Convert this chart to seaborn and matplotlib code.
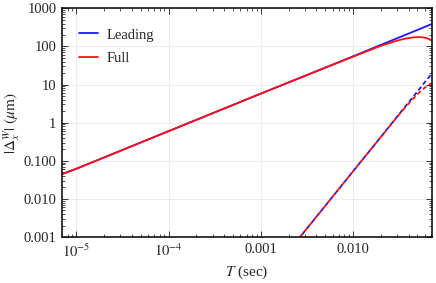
import numpy as np
import pandas as pd
import matplotlib
matplotlib.use("Agg")
import matplotlib.pyplot as plt
import seaborn as sns
from matplotlib.ticker import LogLocator, NullFormatter

# data (T in sec, displacement in um)
t_solid = [7e-6, 1e-5, 1e-4, 1e-3, 0.01, 0.02, 0.03, 0.035, 0.04, 0.045,
           0.05, 0.055, 0.06, 0.065, 0.071]
leading_solid = [0.045, 0.062, 0.6, 5.8, 55, 110, 164, 191, 218, 245,
                 272, 299, 326, 353, 385]
full_solid = [0.045, 0.062, 0.6, 5.8, 54, 104, 142, 156, 166, 173,
              176, 175, 170, 160, 145]

t_dash = [0.0025, 0.005, 0.01, 0.02, 0.03, 0.035, 0.04, 0.045, 0.05,
          0.055, 0.06, 0.065, 0.071]
leading_dash = [0.00083, 0.0066, 0.053, 0.42, 1.43, 2.27, 3.4, 4.8, 6.6,
                8.8, 11.5, 14.5, 19.0]
full_dash = [0.00083, 0.0066, 0.053, 0.42, 1.40, 2.2, 3.15, 4.3, 5.6,
             6.9, 8.3, 9.6, 10.8]

x_ticks = [1e-5, 1e-4, 1e-3, 1e-2]
x_labels = [r"$10^{-5}$", r"$10^{-4}$", "0.001", "0.010"]
y_ticks = [1e-3, 1e-2, 1e-1, 1, 10, 100, 1000]
y_labels = ["0.001", "0.010", "0.100", "1", "10", "100", "1000"]

blue = "#1a1aff"
red = "#ff1010"

sns.set_style("ticks")
plt.rcParams["font.family"] = ["Liberation Serif", "DejaVu Serif"]
plt.rcParams["mathtext.fontset"] = "stix"
plt.rcParams["font.size"] = 10.5

fig = plt.figure(figsize=(4.36, 2.83), dpi=100)
ax = fig.add_axes([0.142, 0.1625, 0.848, 0.808])

sns.lineplot(x=t_solid, y=leading_solid, ax=ax, color=blue, lw=1.3,
             label="Leading")
sns.lineplot(x=t_solid, y=full_solid, ax=ax, color=red, lw=1.3,
             label="Full")
sns.lineplot(x=t_dash, y=leading_dash, ax=ax, color=blue, lw=1.3,
             linestyle=(0, (2.5, 1.6)), legend=False)
sns.lineplot(x=t_dash, y=full_dash, ax=ax, color=red, lw=1.3,
             linestyle=(2.0, (2.5, 1.6)), legend=False)

ax.set_xscale("log")
ax.set_yscale("log")
ax.set_xlim(6.95e-6, 0.0712)
ax.set_ylim(1e-3, 1e3)

ax.set_xticks(x_ticks)
ax.set_xticklabels(x_labels)
ax.set_yticks(y_ticks)
ax.set_yticklabels(y_labels)
ax.xaxis.set_minor_locator(LogLocator(base=10, subs=np.arange(2, 10)))
ax.yaxis.set_minor_locator(LogLocator(base=10, subs=np.arange(2, 10)))
ax.xaxis.set_minor_formatter(NullFormatter())
ax.yaxis.set_minor_formatter(NullFormatter())

ax.tick_params(which="both", direction="in", top=True, right=True,
               labelsize=10.5, color="#333333", pad=4)
ax.tick_params(which="major", length=4, width=0.7)
ax.tick_params(which="minor", length=2, width=0.6)

ax.grid(True, which="major", color="#ededed", lw=0.7)
for s in ax.spines.values():
    s.set_linewidth(1.1)
    s.set_color("black")

ax.set_xlabel(r"$T$ (sec)", fontsize=11, labelpad=3)
ax.set_ylabel(r"$|\Delta_x^W|\ (\mu\mathrm{m})$", fontsize=11, labelpad=1)

ax.legend(loc="upper left", frameon=False, handlelength=1.3,
          labelspacing=0.7, handletextpad=0.6, fontsize=10.5,
          bbox_to_anchor=(0.01, 0.97))

fig.savefig("out.png", dpi=100)
